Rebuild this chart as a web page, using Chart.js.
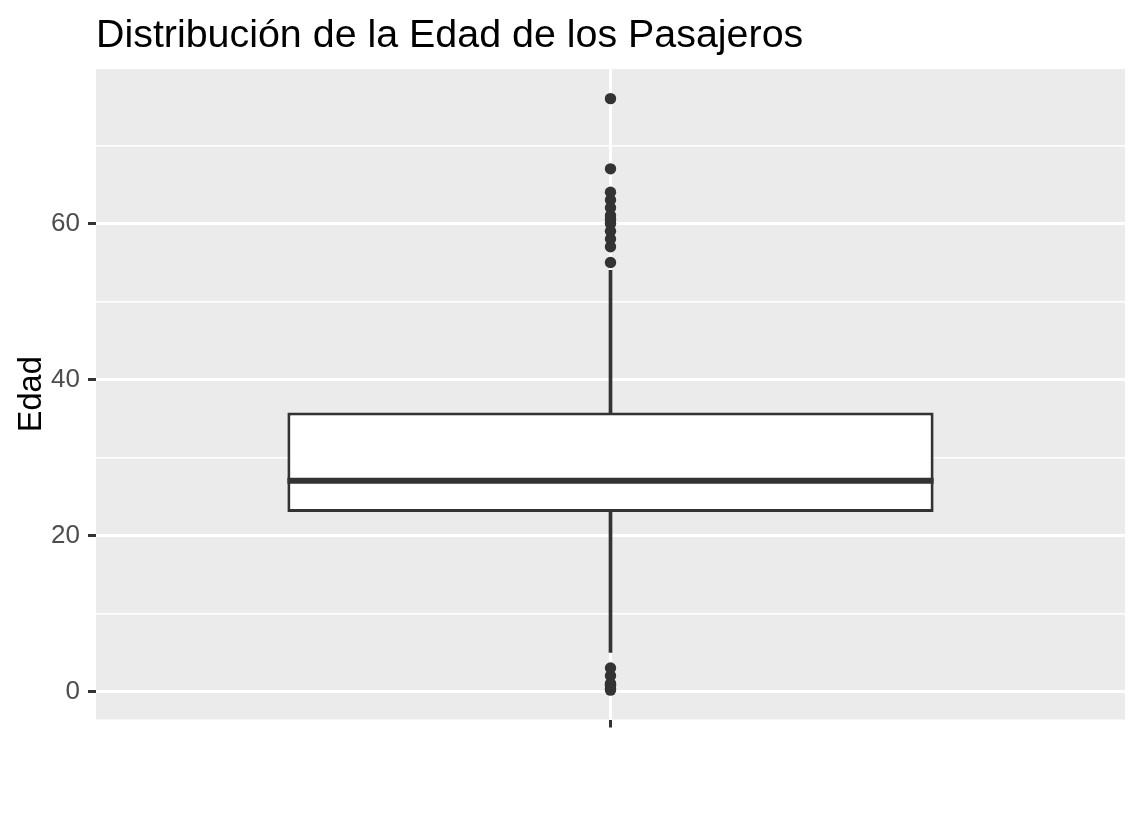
<!DOCTYPE html>
<html>
<head>
<meta charset="utf-8">
<script src="https://cdn.jsdelivr.net/npm/chart.js@4.4.0/dist/chart.umd.min.js"></script>
<style>
  html, body { margin: 0; padding: 0; background: #ffffff; }
  canvas { display: block; }
</style>
</head>
<body>
<canvas id="c" width="1141" height="814"></canvas>
<script>
// ---- Data ----
const categories = ['Edad'];
const boxQ1 = [23.0];
const boxMedian = [27.0];
const boxQ3 = [35.75];
const whiskerLow = [5.0];
const whiskerHigh = [54.0];
const outliersHigh = [76, 67, 64, 63, 62, 61, 60.5, 60, 59, 58, 57, 55];
const outliersLow = [3, 2, 1, 0.83, 0.75, 0.33, 0.17];
const yTickValues = [0, 20, 40, 60];
const titleText = 'Distribución de la Edad de los Pasajeros';
const yTitleText = 'Edad';

const FONT = '"Liberation Sans", Arial, sans-serif';
const DARK = '#333333';

const outlierPoints = outliersHigh.concat(outliersLow).map(v => ({ x: 0, y: v }));

const panelBg = {
  id: 'panelBg',
  beforeDraw(chart) {
    const { ctx, chartArea: a } = chart;
    ctx.save();
    ctx.fillStyle = '#EBEBEB';
    ctx.fillRect(a.left, a.top, a.right - a.left, a.bottom - a.top);
    ctx.restore();
  },
  afterDatasetsDraw(chart) {
    // median line across the box, positioned through the y scale
    const { ctx } = chart;
    const yScale = chart.scales.y;
    const meta = chart.getDatasetMeta(1);
    ctx.save();
    ctx.strokeStyle = DARK;
    ctx.lineWidth = 6;
    ctx.lineCap = 'butt';
    meta.data.forEach((bar, i) => {
      const y = yScale.getPixelForValue(boxMedian[i]);
      ctx.beginPath();
      ctx.moveTo(bar.x - bar.width / 2, y);
      ctx.lineTo(bar.x + bar.width / 2, y);
      ctx.stroke();
    });
    ctx.restore();
  },
  afterDraw(chart) {
    const { ctx, chartArea: a } = chart;
    ctx.save();
    ctx.fillStyle = '#000000';
    ctx.font = '39.4px ' + FONT;
    ctx.textAlign = 'left';
    ctx.textBaseline = 'alphabetic';
    ctx.fillText(titleText, a.left, 46.5);
    ctx.restore();
  }
};

new Chart(document.getElementById('c'), {
  type: 'bar',
  data: {
    labels: categories,
    datasets: [
      {
        type: 'scatter',
        data: outlierPoints,
        pointRadius: 5.7,
        pointHoverRadius: 5.7,
        pointBackgroundColor: DARK,
        pointBorderWidth: 0,
        showLine: false
      },
      {
        data: categories.map((c, i) => [boxQ1[i], boxQ3[i]]),
        backgroundColor: '#ffffff',
        borderColor: DARK,
        borderWidth: 3,
        borderSkipped: false,
        grouped: false,
        categoryPercentage: 1,
        barPercentage: 0.628
      },
      {
        data: categories.map((c, i) => [boxQ3[i], whiskerHigh[i]]),
        backgroundColor: DARK,
        borderWidth: 0,
        grouped: false,
        barThickness: 3
      },
      {
        data: categories.map((c, i) => [whiskerLow[i], boxQ1[i]]),
        backgroundColor: DARK,
        borderWidth: 0,
        grouped: false,
        barThickness: 3
      }
    ]
  },
  options: {
    responsive: false,
    animation: false,
    events: [],
    layout: { padding: { top: 69, right: 16, left: 0, bottom: 0 } },
    plugins: {
      legend: { display: false },
      tooltip: { enabled: false },
      title: { display: false }
    },
    scales: {
      x: {
        type: 'category',
        offset: true,
        grid: {
          offset: false,
          color: '#ffffff',
          lineWidth: 3,
          drawTicks: true,
          tickLength: 8,
          tickColor: DARK,
          tickWidth: 3
        },
        border: { display: false },
        ticks: { callback: () => '', padding: 0 },
        afterFit(scale) { scale.height = 94.5; }
      },
      y: {
        type: 'linear',
        min: -3.6,
        max: 79.8,
        grid: {
          color: '#ffffff',
          lineWidth: ctx => (yTickValues.includes(ctx.tick.value) ? 3 : 1.5),
          drawTicks: true,
          tickLength: 8,
          tickColor: ctx => (yTickValues.includes(ctx.tick.value) ? DARK : 'rgba(0,0,0,0)'),
          tickWidth: 3
        },
        border: { display: false },
        ticks: {
          stepSize: 10,
          includeBounds: false,
          autoSkip: false,
          padding: 8,
          color: '#4D4D4D',
          font: { family: FONT, size: 26 },
          callback: v => (yTickValues.includes(v) ? String(v) : '')
        },
        title: {
          display: true,
          text: yTitleText,
          color: '#000000',
          font: { family: FONT, size: 32.5, lineHeight: 1.2 },
          padding: { top: 13, bottom: 0 }
        },
        afterFit(scale) { scale.width = 96; }
      }
    }
  },
  plugins: [panelBg]
});
</script>
</body>
</html>
